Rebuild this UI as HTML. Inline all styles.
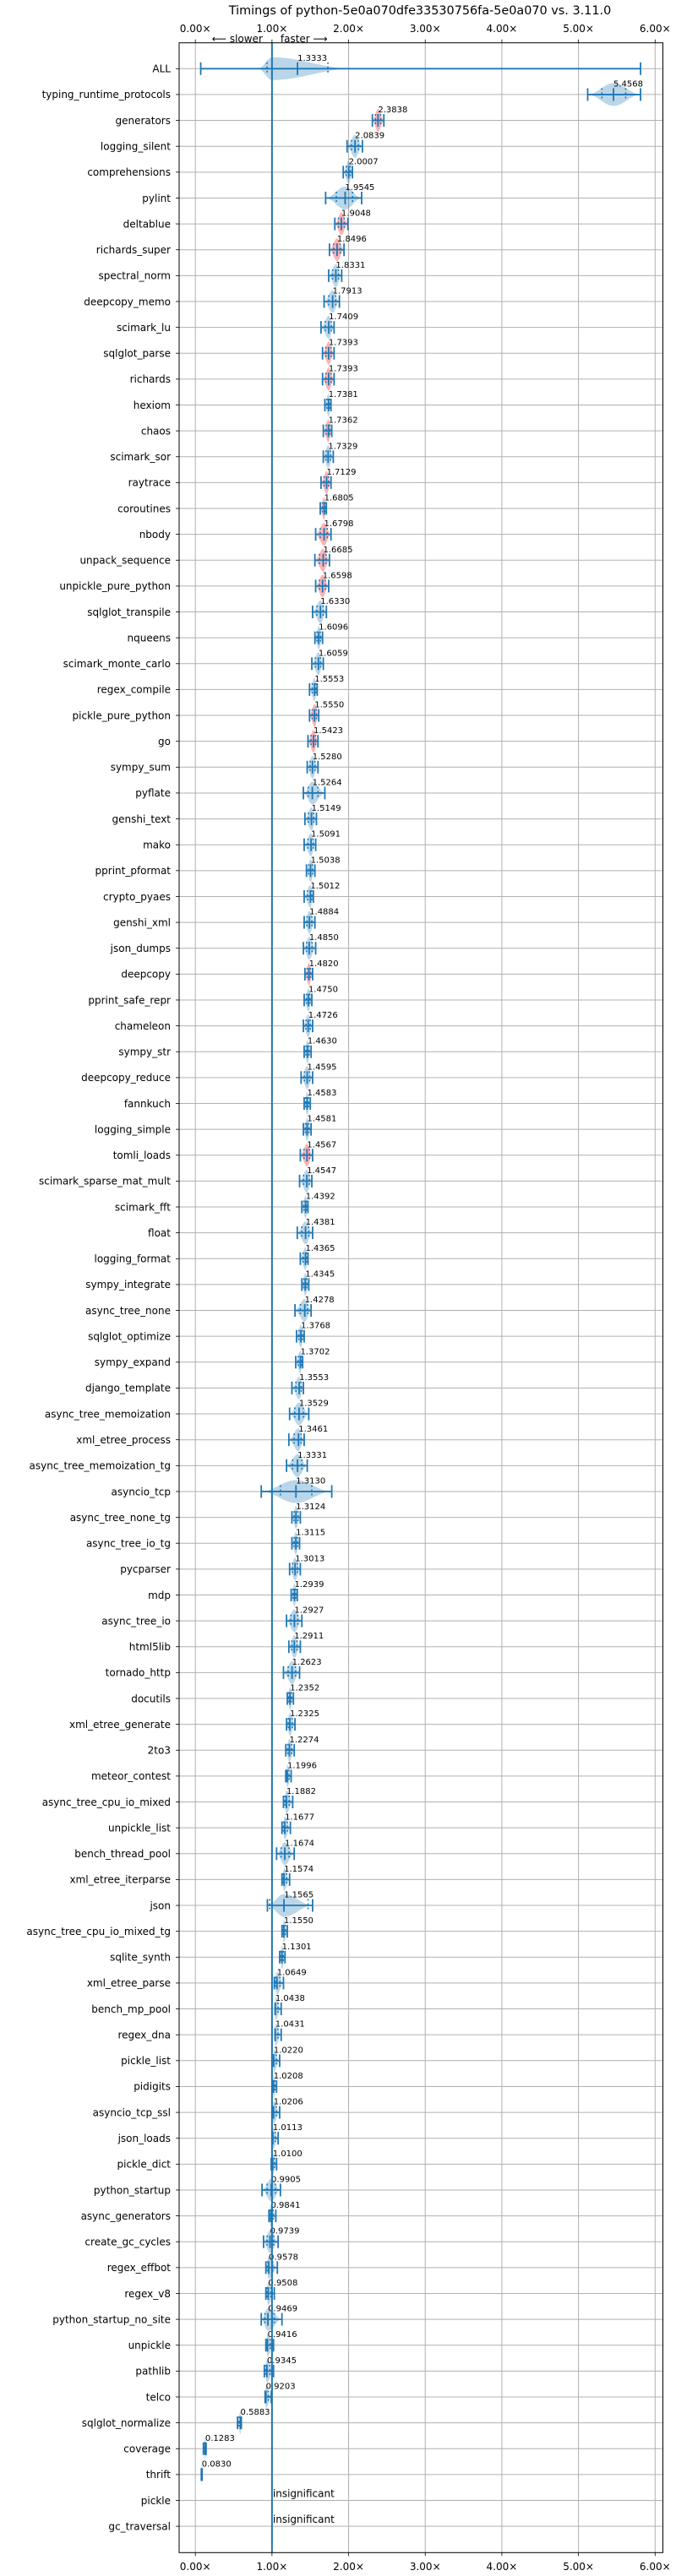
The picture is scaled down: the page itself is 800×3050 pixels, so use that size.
<!DOCTYPE html>
<html><head><meta charset="utf-8"><title>Timings chart</title>
<style>
html,body{margin:0;padding:0;background:#fff;}
svg{display:block;font-family:"DejaVu Sans","Liberation Sans",sans-serif;}
</style></head>
<body>
<svg id="chart" width="800" height="3050" viewBox="0 0 800 3050" xmlns="http://www.w3.org/2000/svg"></svg>
<script>
const benchmarks = ["ALL","typing_runtime_protocols","generators","logging_silent","comprehensions","pylint","deltablue","richards_super","spectral_norm","deepcopy_memo","scimark_lu","sqlglot_parse","richards","hexiom","chaos","scimark_sor","raytrace","coroutines","nbody","unpack_sequence","unpickle_pure_python","sqlglot_transpile","nqueens","scimark_monte_carlo","regex_compile","pickle_pure_python","go","sympy_sum","pyflate","genshi_text","mako","pprint_pformat","crypto_pyaes","genshi_xml","json_dumps","deepcopy","pprint_safe_repr","chameleon","sympy_str","deepcopy_reduce","fannkuch","logging_simple","tomli_loads","scimark_sparse_mat_mult","scimark_fft","float","logging_format","sympy_integrate","async_tree_none","sqlglot_optimize","sympy_expand","django_template","async_tree_memoization","xml_etree_process","async_tree_memoization_tg","asyncio_tcp","async_tree_none_tg","async_tree_io_tg","pycparser","mdp","async_tree_io","html5lib","tornado_http","docutils","xml_etree_generate","2to3","meteor_contest","async_tree_cpu_io_mixed","unpickle_list","bench_thread_pool","xml_etree_iterparse","json","async_tree_cpu_io_mixed_tg","sqlite_synth","xml_etree_parse","bench_mp_pool","regex_dna","pickle_list","pidigits","asyncio_tcp_ssl","json_loads","pickle_dict","python_startup","async_generators","create_gc_cycles","regex_effbot","regex_v8","python_startup_no_site","unpickle","pathlib","telco","sqlglot_normalize","coverage","thrift","pickle","gc_traversal"];
const medians = [1.3333,5.4568,2.3838,2.0839,2.0007,1.9545,1.9048,1.8496,1.8331,1.7913,1.7409,1.7393,1.7393,1.7381,1.7362,1.7329,1.7129,1.6805,1.6798,1.6685,1.6598,1.6330,1.6096,1.6059,1.5553,1.5550,1.5423,1.5280,1.5264,1.5149,1.5091,1.5038,1.5012,1.4884,1.4850,1.4820,1.4750,1.4726,1.4630,1.4595,1.4583,1.4581,1.4567,1.4547,1.4392,1.4381,1.4365,1.4345,1.4278,1.3768,1.3702,1.3553,1.3529,1.3461,1.3331,1.3130,1.3124,1.3115,1.3013,1.2939,1.2927,1.2911,1.2623,1.2352,1.2325,1.2274,1.1996,1.1882,1.1677,1.1674,1.1574,1.1565,1.1550,1.1301,1.0649,1.0438,1.0431,1.0220,1.0208,1.0206,1.0113,1.0100,0.9905,0.9841,0.9739,0.9578,0.9508,0.9469,0.9416,0.9345,0.9203,0.5883,0.1283,0.0830,null,null];
const minVals = [0.07,5.12,2.31,1.98,1.93,1.70,1.82,1.75,1.74,1.68,1.64,1.66,1.66,1.69,1.67,1.67,1.64,1.63,1.57,1.56,1.57,1.53,1.56,1.52,1.49,1.49,1.47,1.46,1.41,1.43,1.42,1.45,1.42,1.42,1.41,1.43,1.42,1.41,1.42,1.38,1.42,1.41,1.37,1.36,1.39,1.33,1.37,1.39,1.30,1.32,1.31,1.26,1.23,1.22,1.19,0.86,1.26,1.26,1.23,1.25,1.19,1.22,1.15,1.20,1.19,1.18,1.18,1.15,1.13,1.06,1.13,0.94,1.13,1.10,1.03,1.04,1.04,1.02,1.01,1.00,1.00,0.99,0.87,0.96,0.89,0.92,0.92,0.86,0.92,0.90,0.91,0.55,0.105,0.078,0.99,0.99];
const maxVals = [5.81,5.81,2.46,2.18,2.05,2.17,1.99,1.94,1.91,1.88,1.81,1.81,1.81,1.77,1.78,1.80,1.77,1.71,1.77,1.75,1.74,1.71,1.66,1.67,1.59,1.61,1.60,1.60,1.69,1.58,1.57,1.56,1.54,1.56,1.57,1.53,1.52,1.53,1.51,1.53,1.50,1.51,1.53,1.52,1.47,1.53,1.47,1.48,1.51,1.42,1.40,1.41,1.48,1.42,1.46,1.78,1.37,1.36,1.37,1.33,1.39,1.37,1.36,1.28,1.30,1.29,1.25,1.27,1.24,1.29,1.23,1.53,1.20,1.17,1.15,1.12,1.12,1.10,1.06,1.10,1.08,1.06,1.11,1.05,1.08,1.07,1.03,1.13,1.02,1.02,0.99,0.60,0.14,0.088,1.01,1.01];
const bodyMin = {"ALL":0.82};
const bodyMax = {"ALL":2.05};
const bodyPeak = {"ALL":1.0};
const q1Override = {"ALL":0.935,"asyncio_tcp":1.11,"json":0.97};
const q3Override = {"ALL":1.73,"asyncio_tcp":1.52,"json":1.47};
const slowerRows = ["generators","deltablue","richards_super","sqlglot_parse","richards","chaos","raytrace","coroutines","nbody","unpack_sequence","unpickle_pure_python","pickle_pure_python","go","deepcopy","tomli_loads"];
const xTicks = [0,1,2,3,4,5,6];
const xTickLabels = ["0.00×","1.00×","2.00×","3.00×","4.00×","5.00×","6.00×"];

const NS = "http://www.w3.org/2000/svg";
const svg = document.getElementById("chart");
const X0 = 231.2, XS = 90.68, Y0 = 81.3, YS = 30.63;
const PL = 212, PR = 784.5, PT = 50.7, PB = 3022.3;
function xPos(v){ return X0 + v*XS; }
function yPos(i){ return Y0 + i*YS; }
function mk(tag, attrs, parent){
  const e = document.createElementNS(NS, tag);
  for (const k in attrs) e.setAttribute(k, attrs[k]);
  (parent||svg).appendChild(e);
  return e;
}
const BLUE = "#1f77b4";

let t = mk("text",{x:497,y:17,"font-size":"14.4","text-anchor":"middle",fill:"#000"});
t.textContent = "Timings of python-5e0a070dfe33530756fa-5e0a070 vs. 3.11.0";



const grid = mk("g",{});


xTicks.forEach(v=>{
  const l = mk("line",{x1:xPos(v),x2:xPos(v),y1:PT,y2:PB,stroke:"#b0b0b0","stroke-width":1},grid);
  
  
});
benchmarks.forEach((b,i)=>{
  const l = mk("line",{x1:PL,x2:PR,y1:yPos(i),y2:yPos(i),stroke:"#b0b0b0","stroke-width":1},grid);
  
  
});

const xaxTop = mk("g",{});


const xaxBot = mk("g",{});


xTicks.forEach((v,k)=>{
  const x = xPos(v);
  mk("line",{x1:x,x2:x,y1:PT,y2:PT-4,stroke:"#000","stroke-width":0.8},xaxTop);
  const a = mk("text",{x:x,y:38,"font-size":"12","text-anchor":"middle",fill:"#000"},xaxTop);
  a.textContent = xTickLabels[k];
  
  
  mk("line",{x1:x,x2:x,y1:PB,y2:PB+4,stroke:"#000","stroke-width":0.8},xaxBot);
  const c = mk("text",{x:x,y:3043,"font-size":"12","text-anchor":"middle",fill:"#000"},xaxBot);
  c.textContent = xTickLabels[k];
  
  
});
let s1 = mk("text",{x:xPos(1)-11,y:50,"font-size":"12","text-anchor":"end",fill:"#000"});
s1.textContent = "⟵ slower";


let s2 = mk("text",{x:xPos(1)+10,y:50,"font-size":"12","text-anchor":"start",fill:"#000"});
s2.textContent = "faster ⟶";



const yax = mk("g",{});


benchmarks.forEach((b,i)=>{
  const y = yPos(i);
  mk("line",{x1:PL,x2:PL-4,y1:y,y2:y,stroke:"#000","stroke-width":0.8},yax);
  const lb = mk("text",{x:PL-10,y:y+4.3,"font-size":"12","text-anchor":"end",fill:"#000"},yax);
  lb.textContent = b;
  
  
});

const H = 13.5;
function violinPath(lo, med, hi, y){
  const N = 40; let up = [], dn = [];
  const m = Math.min(Math.max(med, lo+1e-6), hi-1e-6);
  for (let k=0;k<=N;k++){
    const v = lo + (hi-lo)*k/N;
    let u = v<=m ? (v-lo)/(m-lo) : (hi-v)/(hi-m);
    const h = H*(1-Math.cos(Math.PI*Math.max(0,Math.min(1,u))))/2;
    up.push(xPos(v).toFixed(2)+","+(y-h).toFixed(2));
    dn.unshift(xPos(v).toFixed(2)+","+(y+h).toFixed(2));
  }
  return "M"+up.join("L")+"L"+dn.join("L")+"Z";
}
const marks = mk("g",{});


benchmarks.forEach((b,i)=>{
  const y = yPos(i), med = medians[i], lo = minVals[i], hi = maxVals[i];
  const red = slowerRows.indexOf(b) >= 0;
  const g = mk("g",{},marks);
  
  
  const bl = bodyMin[b] !== undefined ? bodyMin[b] : lo;
  const bh = bodyMax[b] !== undefined ? bodyMax[b] : hi;
  const center = bodyPeak[b] !== undefined ? bodyPeak[b] : (med === null ? 1.0 : med);
  const body = mk("path",{d:violinPath(bl, center, bh, y),fill:red?"#ff0000":BLUE,"fill-opacity":0.3,stroke:"none"},g);
  
  
  if (med === null){
    const ins = mk("text",{x:xPos(1)+1,y:y-4,"font-size":"12",fill:"#000"},g);
    ins.textContent = "insignificant";
    
    
    return;
  }
  mk("line",{x1:xPos(lo),x2:xPos(hi),y1:y,y2:y,stroke:BLUE,"stroke-width":1.8},g);
  [lo,hi,med].forEach(v=>{
    const c = mk("line",{x1:xPos(v),x2:xPos(v),y1:y-7.5,y2:y+7.5,stroke:BLUE,"stroke-width":1.8},g);
    
    
  });
  const q1 = q1Override[b] !== undefined ? q1Override[b] : med - 0.45*(med-lo);
  const q3 = q3Override[b] !== undefined ? q3Override[b] : med + 0.45*(hi-med);
  [q1,q3].forEach(v=>{
    const q = mk("line",{x1:xPos(v),x2:xPos(v),y1:y-7.5,y2:y+7.5,stroke:BLUE,"stroke-width":1.6,"stroke-dasharray":"2,3"},g);
    
    
  });
  const lab = mk("text",{x:xPos(med),y:y-9.5,"font-size":"10",fill:"#000"},g);
  lab.textContent = med.toFixed(4);
  
  
});

const ref = mk("line",{x1:xPos(1),x2:xPos(1),y1:PT,y2:PB,stroke:BLUE,"stroke-width":2});



const fr = mk("rect",{x:PL,y:PT,width:PR-PL,height:PB-PT,fill:"none",stroke:"#000","stroke-width":1});


</script>
</body></html>
